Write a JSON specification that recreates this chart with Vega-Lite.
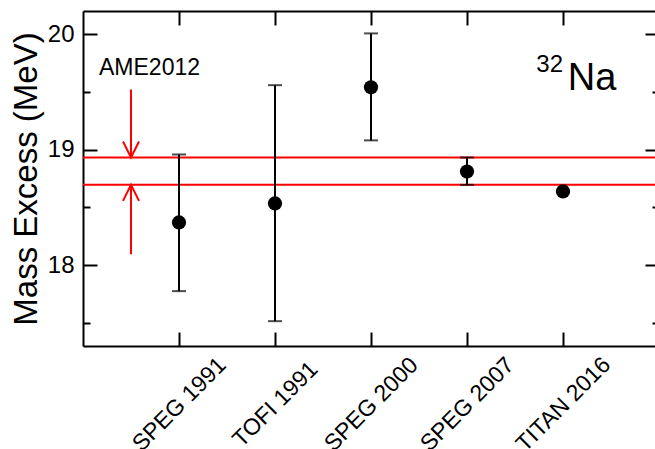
{
  "$schema": "https://vega.github.io/schema/vega-lite/v6.json",
  "width": 576,
  "height": 335,
  "padding": {"left": 10, "top": 10, "right": 0, "bottom": 0},
  "background": "white",
  "config": {"view": {"stroke": null}, "font": "Liberation Sans", "axis": {"grid": false, "domainColor": "black", "domainWidth": 2, "tickColor": "black", "tickWidth": 2, "labelColor": "black", "titleColor": "black", "labelFont": "Liberation Sans", "titleFont": "Liberation Sans"}},
  "datasets": {
    "meas": [
      {"experiment": "SPEG 1991", "pos": 1, "me": 18.37, "lo": 17.775, "hi": 18.958},
      {"experiment": "TOFI 1991", "pos": 2, "me": 18.534, "lo": 17.515, "hi": 19.558},
      {"experiment": "SPEG 2000", "pos": 3, "me": 19.539, "lo": 19.08, "hi": 20.006},
      {"experiment": "SPEG 2007", "pos": 4, "me": 18.81, "lo": 18.695, "hi": 18.932},
      {"experiment": "TITAN 2016", "pos": 5, "me": 18.638, "lo": 18.632, "hi": 18.644}
    ],
    "ame": [
      {"bound": "upper", "v": 18.932, "pos": 0.5, "from": 19.52, "dir": "down"},
      {"bound": "lower", "v": 18.695, "pos": 0.5, "from": 18.095, "dir": "up"}
    ],
    "notes": [
      {"text": "AME2012", "pos": 0.693, "v": 19.645}
    ],
    "nuclide": [
      {"mass": "32", "symbol": "Na", "pos": 5.0, "pos2": 5.05, "vm": 19.671, "vs": 19.515}
    ]
  },
  "resolve": {"axis": {"x": "independent", "y": "independent"}},
  "layer": [
    {
      "data": {"name": "ame"},
      "mark": {"type": "rule", "color": "#ff0000", "strokeWidth": 2},
      "encoding": {
        "y": {"field": "v", "type": "quantitative", "axis": null, "scale": {"domain": [17.3, 20.2], "nice": false, "zero": false}}
      }
    },
    {
      "data": {"name": "meas"},
      "mark": {"type": "rule", "color": "black", "strokeWidth": 2},
      "encoding": {
        "x": {"field": "pos", "type": "quantitative", "scale": {"domain": [0, 6], "nice": false, "zero": false},
          "axis": {"orient": "bottom", "values": [1, 2, 3, 4, 5], "labelExpr": "['', 'SPEG 1991', 'TOFI 1991', 'SPEG 2000', 'SPEG 2007', 'TITAN 2016'][datum.value]", "labelAngle": -45, "labelAlign": "center", "labelBaseline": "middle", "labelFontSize": 23, "labelPadding": 72, "labelOverlap": false, "labelFlush": false, "tickSize": -14, "title": null}},
        "y": {"field": "lo", "type": "quantitative", "scale": {"domain": [17.3, 20.2], "nice": false, "zero": false},
          "axis": {"orient": "left", "values": [18, 19, 20], "format": "d", "labelFontSize": 24, "labelPadding": 23, "tickSize": -14, "title": "Mass Excess (MeV)", "titleFontSize": 33, "titleFontWeight": "normal", "titlePadding": 4}},
        "y2": {"field": "hi"}
      }
    },
    {
      "data": {"name": "meas"},
      "mark": {"type": "tick", "orient": "horizontal", "color": "black", "size": 14, "thickness": 2},
      "encoding": {
        "x": {"field": "pos", "type": "quantitative", "axis": {"orient": "top", "values": [1, 2, 3, 4, 5], "labels": false, "tickSize": -14, "title": null}},
        "y": {"field": "hi", "type": "quantitative", "axis": {"orient": "right", "values": [18, 19, 20], "labels": false, "tickSize": -14, "title": null}}
      }
    },
    {
      "data": {"name": "meas"},
      "mark": {"type": "tick", "orient": "horizontal", "color": "black", "size": 14, "thickness": 2},
      "encoding": {
        "x": {"field": "pos", "type": "quantitative", "axis": null},
        "y": {"field": "lo", "type": "quantitative", "axis": {"orient": "left", "values": [17.5, 18.5, 19.5], "labels": false, "domain": false, "tickSize": -7, "title": null}}
      }
    },
    {
      "data": {"name": "meas"},
      "mark": {"type": "point", "shape": "circle", "filled": true, "color": "black", "size": 201, "opacity": 1},
      "encoding": {
        "x": {"field": "pos", "type": "quantitative", "axis": null},
        "y": {"field": "me", "type": "quantitative", "axis": {"orient": "right", "values": [17.5, 18.5, 19.5], "labels": false, "domain": false, "tickSize": -7, "title": null}}
      }
    },
    {
      "data": {"name": "ame"},
      "mark": {"type": "rule", "color": "#ff0000", "strokeWidth": 2},
      "encoding": {
        "x": {"field": "pos", "type": "quantitative", "axis": null},
        "y": {"field": "from", "type": "quantitative", "axis": null},
        "y2": {"field": "v"}
      }
    },
    {
      "data": {"name": "ame"},
      "mark": {"type": "point", "filled": false, "color": "#ff0000", "strokeWidth": 2, "size": 256, "opacity": 1},
      "encoding": {
        "x": {"field": "pos", "type": "quantitative", "axis": null},
        "y": {"field": "v", "type": "quantitative", "axis": null},
        "shape": {"field": "dir", "type": "nominal", "scale": {"domain": ["down", "up"], "range": ["M-1,-2L0,0L1,-2", "M-1,2L0,0L1,2"]}, "legend": null}
      }
    },
    {
      "data": {"name": "notes"},
      "mark": {"type": "text", "fontSize": 23, "align": "center", "baseline": "alphabetic", "color": "black"},
      "encoding": {
        "x": {"field": "pos", "type": "quantitative", "axis": null},
        "y": {"field": "v", "type": "quantitative", "axis": null},
        "text": {"field": "text"}
      }
    },
    {
      "data": {"name": "nuclide"},
      "mark": {"type": "text", "fontSize": 24, "align": "right", "baseline": "alphabetic", "color": "black"},
      "encoding": {
        "x": {"field": "pos", "type": "quantitative", "axis": null},
        "y": {"field": "vm", "type": "quantitative", "axis": null},
        "text": {"field": "mass"}
      }
    },
    {
      "data": {"name": "nuclide"},
      "mark": {"type": "text", "fontSize": 38, "align": "left", "baseline": "alphabetic", "color": "black"},
      "encoding": {
        "x": {"field": "pos2", "type": "quantitative", "axis": null},
        "y": {"field": "vs", "type": "quantitative", "axis": null},
        "text": {"field": "symbol"}
      }
    }
  ]
}
